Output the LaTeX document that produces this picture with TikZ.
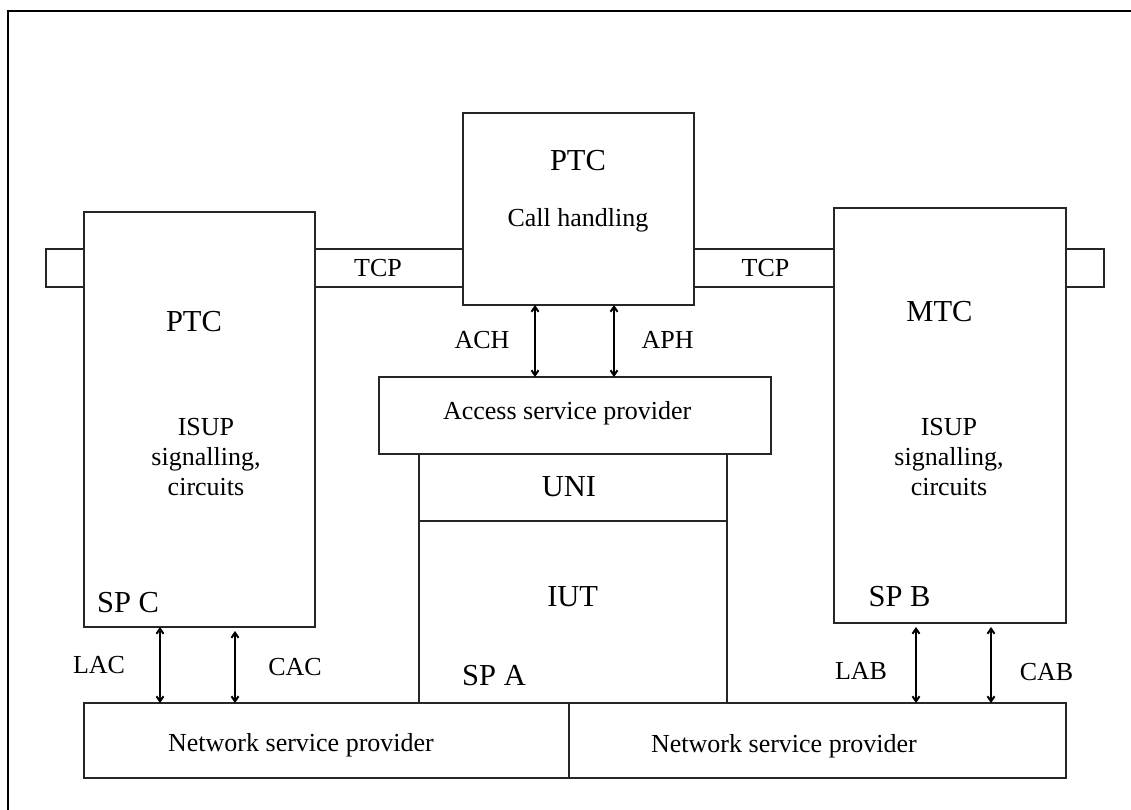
\documentclass[tikz,border=0pt]{standalone}
\usepackage{fontspec}
\setmainfont{Liberation Serif}
\usetikzlibrary{arrows.meta}
\begin{document}
\begin{tikzpicture}[x=1pt,y=-1pt,
  box/.style={draw=black!85, line width=1.1pt, rectangle, inner sep=0pt, outer sep=0pt},
  big/.style={font=\fontsize{30.5}{36}\selectfont, anchor=base, inner sep=0pt},
  small/.style={font=\fontsize{26}{30}\selectfont, anchor=base, inner sep=0pt},
  dbl/.style={{Straight Barb[length=5pt,width=7pt]}-{Straight Barb[length=5pt,width=7pt]}, line width=2pt}]
\useasboundingbox (0,0) rectangle (1131,809);
\draw[line width=1.8pt] (8,820) -- (8,11) -- (1140,11);
% boxes
\node[box, minimum width=231pt, minimum height=415pt] (ptcL) at (199.5,419.5) {};
\node[box, minimum width=38pt, minimum height=38pt] (stubL) at (65,268) {};
\node[box, minimum width=148pt, minimum height=38pt] (tcpL) at (389,268) {};
\node[box, minimum width=231pt, minimum height=192pt] (ch) at (578.5,209) {};
\node[box, minimum width=140pt, minimum height=38pt] (tcpR) at (764,268) {};
\node[box, minimum width=232pt, minimum height=415pt] (mtc) at (950,415.5) {};
\node[box, minimum width=38pt, minimum height=38pt] (stubR) at (1085,268) {};
\node[box, minimum width=392pt, minimum height=77pt] (asp) at (575,415.5) {};
\node[box, minimum width=308pt, minimum height=67pt] (uni) at (573,487.5) {};
\node[box, minimum width=308pt, minimum height=182pt] (iut) at (573,612) {};
\node[box, minimum width=485pt, minimum height=75pt] (nsp1) at (326.5,740.5) {};
\node[box, minimum width=497pt, minimum height=75pt] (nsp2) at (817.5,740.5) {};
% texts
\node[big] (tptcl) at (194,331.7) {PTC};
\node[small] (tisupl) at (206,435) {ISUP};
\node[small] (tsigl) at (206,465.7) {signalling,};
\node[small] (tcirl) at (206,495) {circuits};
\node[big] (tspc) at (128,612.3) {SP C};
\node[small] (ttcpl) at (378,276) {TCP};
\node[big] (tptcc) at (578,170) {PTC};
\node[small] (tcall) at (578,226) {Call handling};
\node[small] (ttcpr) at (765.5,276) {TCP};
\node[big] (tmtc) at (939.5,321.7) {MTC};
\node[small] (tisupr) at (949,435) {ISUP};
\node[small] (tsigr) at (949,465.7) {signalling,};
\node[small] (tcirr) at (949,495) {circuits};
\node[big] (tspb) at (899.5,606) {SP B};
\node[small] (tach) at (482,348) {ACH};
\node[small] (taph) at (667.7,348) {APH};
\node[small] (tasp) at (567.2,419.3) {Access service provider};
\node[big] (tuni) at (568.9,496.7) {UNI};
\node[big] (tiut) at (572.7,606) {IUT};
\node[big] (tspa) at (494,685.3) {SP A};
\node[small] (tlac) at (99,673.3) {LAC};
\node[small] (tcac) at (295,675.7) {CAC};
\node[small] (tlab) at (861,679) {LAB};
\node[small] (tcab) at (1046.5,680) {CAB};
\node[small] (tnsp1) at (301,751.7) {Network service provider};
\node[small] (tnsp2) at (784,752.7) {Network service provider};
% arrows
\coordinate (xach) at (535,0);
\coordinate (xaph) at (614,0);
\coordinate (xlac) at (160,0);
\coordinate (xcac) at (235,0);
\coordinate (xlab) at (916,0);
\coordinate (xcab) at (991,0);
\draw[dbl] (ch.south -| xach) -- (asp.north -| xach);
\draw[dbl] (ch.south -| xaph) -- (asp.north -| xaph);
\draw[dbl] (ptcL.south -| xlac) -- (nsp1.north -| xlac);
\draw[dbl, shorten <=4pt] (ptcL.south -| xcac) -- (nsp1.north -| xcac);
\draw[dbl, shorten <=4pt] (mtc.south -| xlab) -- (nsp2.north -| xlab);
\draw[dbl, shorten <=4pt] (mtc.south -| xcab) -- (nsp2.north -| xcab);
\end{tikzpicture}
\end{document}
